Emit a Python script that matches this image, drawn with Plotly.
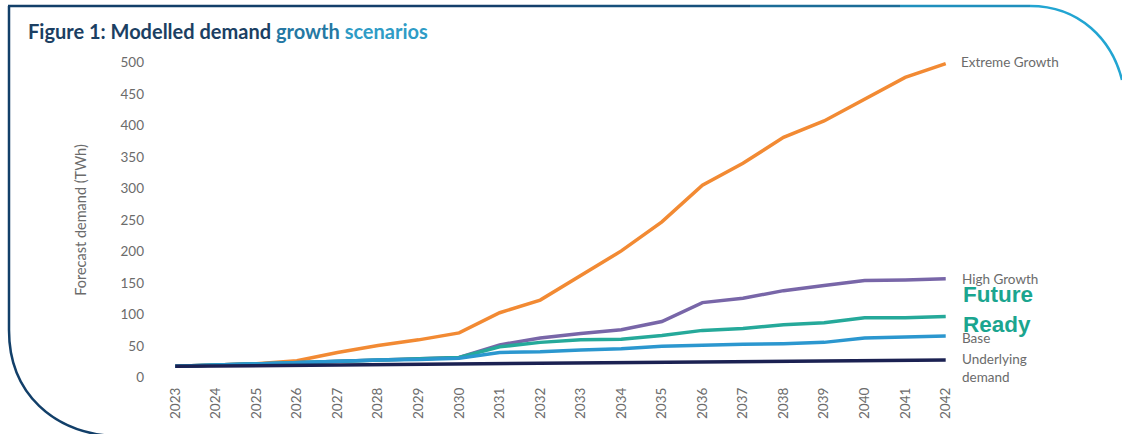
import plotly.graph_objects as go

years = list(range(2023, 2043))
extreme = [18, 20, 22, 27, 40, 51, 60, 71, 103, 123, 162, 201, 247, 305, 340, 381, 407, 441, 476, 498]
high = [18, 20, 22, 25, 27, 28, 30, 32, 52, 63, 70, 76, 89, 119, 126, 138, 146, 154, 155, 157]
future = [18, 20, 22, 25, 27, 28, 30, 32, 49, 56, 60, 61, 67, 75, 78, 84, 87, 95, 95, 97]
base = [18, 20, 22, 25, 27, 28, 29, 31, 40, 41, 44, 46, 50, 52, 53, 54, 56, 63, 65, 66]
underlying = [18, 18.5, 19, 19.5, 20, 20.5, 21, 21.5, 22, 22.5, 23, 23.5, 24, 24.5, 25, 25.5, 26, 26.5, 27, 28]

series_names = ["Underlying\ndemand", "Base", "Future Ready", "High Growth", "Extreme Growth"]
series_vals = [underlying, base, future, high, extreme]
colors = ["#1b2152", "#2b97cf", "#25a99a", "#7866a8", "#f28a33"]
y_ticks = [0, 50, 100, 150, 200, 250, 300, 350, 400, 450, 500]

W, H = 1122, 434
L, R, T, B = 155, 156, 56, 50
PW, PH = W - L - R, H - T - B

def px(x, y):
    return (x - L) / PW, (H - B - y) / PH

fig = go.Figure()
order = [4, 3, 2, 1, 0]
for i in order:
    fig.add_trace(go.Scatter(x=years, y=series_vals[i], mode="lines",
                             line=dict(color=colors[i], width=3.5),
                             name=series_names[i], showlegend=False,
                             hoverinfo="x+y"))

FAM = "Lato, Open Sans, sans-serif"
tick_font = dict(family=FAM, size=13.5, color="#6b6b6b")
lab_font = dict(family=FAM, size=13.5, color="#6b6b6b")
ann = []
# end labels
ann.append(dict(x=2042, y=extreme[-1], text="Extreme Growth", xanchor="left", yanchor="middle",
                xshift=13, yshift=2, showarrow=False, font=lab_font))
ann.append(dict(x=2042, y=high[-1], text="High Growth", xanchor="left", yanchor="middle",
                xshift=14, yshift=0, showarrow=False, font=lab_font))
ann.append(dict(x=2042, y=base[-1], text="Base", xanchor="left", yanchor="middle",
                xshift=14, yshift=-2, showarrow=False, font=lab_font))
ann.append(dict(x=2042, y=underlying[-1], text="Underlying<br>demand", xanchor="left", yanchor="top",
                xshift=14, yshift=11, showarrow=False, align="left", font=lab_font))
fr_font = dict(family="Liberation Sans, Arial, sans-serif", size=22.5, color="#1ba58f", weight="bold")
ann.append(dict(x=2042, y=132, text="Future", xanchor="left", yanchor="middle",
                xshift=15, showarrow=False, align="left", font=fr_font))
ann.append(dict(x=2042, y=84, text="Ready", xanchor="left", yanchor="middle",
                xshift=15, showarrow=False, align="left", font=fr_font))
# title
tx, ty = px(26, 31)
ann.append(dict(xref="paper", yref="paper", x=tx, y=ty, xanchor="left", yanchor="middle",
                showarrow=False,
                text="<b><span style='color:#1b3f63'>Figure 1: Modelled demand</span> "
                     "<span style='color:#2578a3'>growth</span> "
                     "<span style='color:#2f9cc6'>scenarios</span></b>",
                font=dict(family=FAM, size=20)))

shapes = []
def seg(p, color, width=2.5):
    shapes.append(dict(type="path", path=p, xref="paper", yref="paper",
                       line=dict(color=color, width=width)))

def P(x, y):
    a, b = px(x, y)
    return f"{a:.5f},{b:.5f}"

# left side with bottom-left curve
seg(f"M {P(9,6)} L {P(9,330)} C {P(9,395)} {P(55,432)} {P(112,436)}", "#123f69")
# top line with gradient
stops = [8, 300, 550, 750, 900, 1030]
cols = ["#123f69", "#143f6b", "#17507c", "#1b6c97", "#1f8fbd"]
for i in range(len(stops) - 1):
    seg(f"M {P(stops[i],6)} L {P(stops[i+1],6)}", cols[i])
seg(f"M {P(1030,6)} C {P(1080,6)} {P(1112,40)} {P(1122,80)}", "#22a5d2")

fig.update_layout(
    width=W, height=H,
    margin=dict(l=L, r=R, t=T, b=B),
    paper_bgcolor="white", plot_bgcolor="white",
    annotations=ann, shapes=shapes,
    xaxis=dict(range=[2022.5, 2042.5], tickmode="array", tickvals=years,
               ticktext=[str(y) for y in years], tickangle=-90,
               showgrid=False, zeroline=False, showline=False, ticks="",
               tickfont=tick_font),
    yaxis=dict(range=[-10, 510], tickmode="array", tickvals=y_ticks,
               showgrid=False, zeroline=False, showline=False, ticks="",
               tickfont=tick_font, ticklabelstandoff=10,
               title=dict(text="Forecast demand (TWh)", font=dict(family=FAM, size=14.5, color="#6b6b6b"),
                          standoff=30)),
    showlegend=False,
)

fig.write_html("out.html")
